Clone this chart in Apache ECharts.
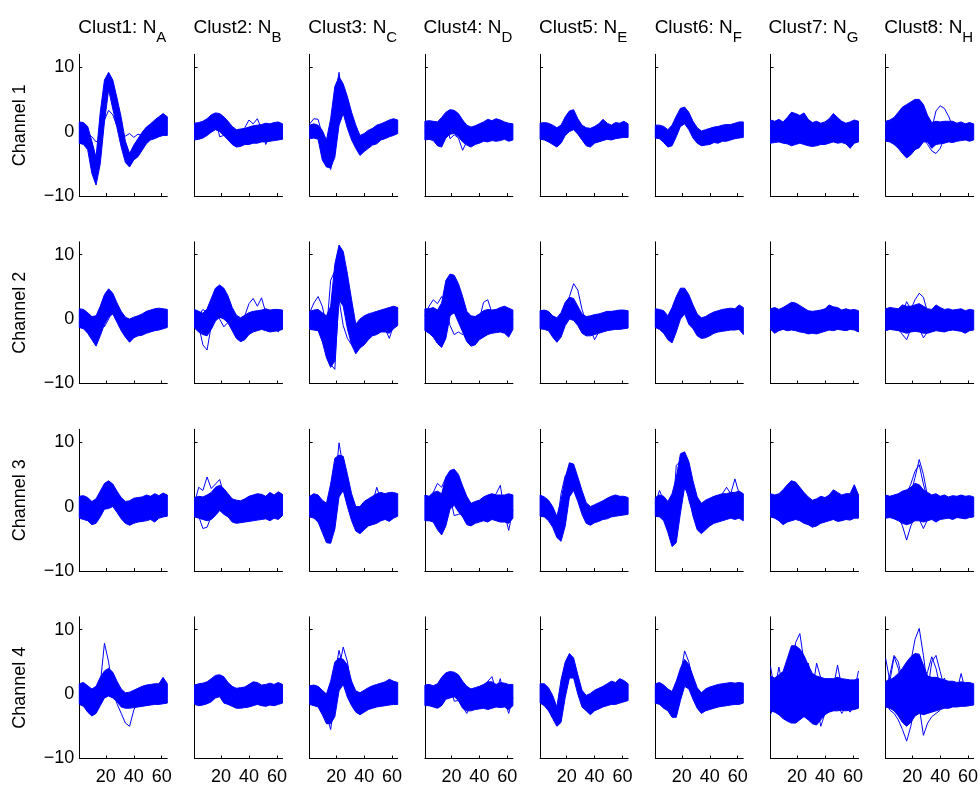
<!DOCTYPE html>
<html><head><meta charset="utf-8">
<script src="https://cdn.jsdelivr.net/npm/echarts@6/dist/echarts.min.js"></script>
<style>html,body{margin:0;padding:0;background:#fff}#c{width:980px;height:787px}</style>
</head><body><div id="c"></div>
<script>
// sample positions (every third sample of the 64-sample waveform)
const X = [1,4,7,10,13,16,19,22,25,28,31,34,37,40,43,46,49,52,55,58,61,64];
const CLUSTERS = ['Clust1','Clust2','Clust3','Clust4','Clust5','Clust6','Clust7','Clust8'];
const SUBS = ['A','B','C','D','E','F','G','H'];
const CHANNELS = ['Channel 1','Channel 2','Channel 3','Channel 4'];
const X_TICKS = [20,40,60];
const Y_TICKS = [-10,0,10];

// ---- Channel 1 : dense band upper/lower edge + stray traces ----
const ch1_k1_hi = [1.5,1.4,0.8,-1.5,-4.0,3.0,8.0,9.2,8.0,5.2,2.2,-1.5,-3.4,-2.1,-1.1,-0.1,0.7,1.2,1.8,2.3,2.8,2.3];
const ch1_k1_lo = [-1.8,-2.0,-2.8,-6.5,-8.3,-5.0,1.5,6.5,3.5,0.6,-2.4,-4.8,-5.5,-4.4,-3.9,-2.9,-1.9,-1.3,-1.1,-0.8,-0.6,-0.6];
const ch1_k1_out = [[0.5,0.3,-0.3,-0.8,-1.6,-1.0,1.8,3.3,2.6,0.8,-0.6,-0.7,-0.3,-0.9,-0.4,-0.6,0.0,0.3,0.5,0.8,1.2,1.0]];
const ch1_k2_hi = [1.3,1.4,1.6,2.0,2.6,2.9,2.8,2.3,1.6,0.8,0.3,0.4,0.5,0.7,0.9,1.0,1.1,1.3,1.2,1.4,1.5,1.2];
const ch1_k2_lo = [-1.3,-1.2,-1.0,-0.6,-0.1,0.3,0.0,-0.6,-1.3,-2.0,-2.4,-2.3,-2.0,-2.0,-1.8,-1.8,-1.6,-1.6,-1.5,-1.4,-1.3,-1.2];
const ch1_k2_out = [[0.2,0.0,0.5,1.0,1.6,2.2,-0.8,-0.6,-0.8,-1.2,-1.5,-1.2,0.6,1.8,1.2,2.0,0.4,-2.0,-0.5,0.2,-0.8,0.0]];
const ch1_k3_hi = [1.0,1.2,1.0,0.2,-1.3,2.0,7.0,8.5,7.4,5.4,3.0,1.0,-0.6,-0.3,0.2,0.5,1.0,1.2,1.5,1.8,2.0,1.8];
const ch1_k3_lo = [-1.1,-1.0,-1.2,-4.4,-5.5,-5.6,-4.0,1.0,2.8,0.5,-1.3,-2.6,-3.7,-3.1,-2.6,-2.1,-1.9,-1.3,-1.1,-0.8,-0.6,-0.3];
const ch1_k3_out = [[0.2,0.0,-0.5,-2.0,-4.5,-5.9,-3.0,5.0,6.5,4.0,1.0,-1.5,-2.5,-2.0,-1.5,-1.0,-0.8,-0.5,-0.3,0.0,0.3,0.2],
                    [1.2,2.0,1.9,-0.5,-3.0,-2.0,5.0,9.2,4.0,2.0,0.0,-1.0,-2.0,-1.5,-1.0,-0.5,0.0,0.2,0.5,0.8,1.0,0.8]];
const ch1_k4_hi = [1.6,1.7,1.6,1.5,2.2,3.0,3.4,3.3,2.8,1.8,1.0,0.7,0.9,1.2,1.5,1.9,1.7,2.0,1.8,1.5,1.3,1.2];
const ch1_k4_lo = [-1.3,-1.2,-1.4,-2.2,-2.4,-1.0,-0.4,-0.3,-0.8,-1.6,-2.1,-2.4,-2.0,-1.8,-1.5,-1.6,-1.4,-1.5,-1.4,-1.2,-1.5,-1.3];
const ch1_k4_out = [[0.0,0.2,0.0,-0.5,0.5,1.5,-1.1,-0.5,-1.0,-2.9,-1.5,-1.0,-0.5,0.0,0.5,0.2,0.0,0.3,0.0,0.2,0.0,0.0]];
const ch1_k5_hi = [1.3,1.4,1.3,1.0,0.6,1.0,2.3,3.2,3.4,2.0,1.0,0.6,0.5,0.8,1.2,1.9,1.3,1.0,1.4,1.3,1.6,1.2];
const ch1_k5_lo = [-1.2,-1.3,-1.6,-2.0,-2.4,-1.8,-0.6,0.0,0.3,-0.4,-1.3,-2.2,-2.4,-1.8,-1.6,-1.4,-1.2,-1.3,-1.1,-1.0,-0.9,-0.9];
const ch1_k5_out = [];
const ch1_k6_hi = [1.0,1.0,0.8,0.3,1.0,2.4,3.6,3.8,3.0,1.6,0.6,0.1,0.3,0.5,0.7,0.8,1.0,1.1,1.1,1.3,1.5,1.5];
const ch1_k6_lo = [-1.0,-1.1,-1.7,-2.4,-2.2,-0.8,0.8,1.2,0.3,-1.0,-1.8,-2.2,-2.1,-2.0,-1.7,-1.8,-1.5,-1.5,-1.3,-1.1,-1.0,-0.9];
const ch1_k6_out = [];
const ch1_k7_hi = [1.8,1.6,1.9,1.5,2.2,3.0,2.8,2.5,2.9,1.9,1.4,1.6,1.3,1.5,2.0,2.8,2.2,1.6,1.3,1.5,1.8,1.6];
const ch1_k7_lo = [-1.8,-1.7,-1.6,-1.8,-1.9,-2.2,-2.0,-1.8,-2.0,-2.2,-2.3,-2.2,-2.0,-2.0,-1.8,-1.6,-1.8,-1.7,-1.9,-2.6,-1.8,-1.6];
const ch1_k7_out = [];
const ch1_k8_hi = [1.6,1.8,2.2,3.0,3.8,4.2,4.6,5.0,5.0,4.2,2.5,1.4,1.6,1.5,1.6,1.6,1.6,1.3,1.5,1.2,1.4,1.2];
const ch1_k8_lo = [-1.5,-1.6,-2.0,-2.6,-3.4,-4.1,-3.6,-2.8,-2.5,-1.6,-1.6,-2.6,-2.0,-1.9,-1.8,-1.6,-1.7,-1.5,-1.4,-1.3,-1.5,-1.3];
const ch1_k8_out = [[0.3,0.5,0.8,1.2,2.0,1.5,0.5,1.0,2.0,1.5,0.5,0.5,3.2,4.0,3.6,2.4,0.8,0.3,0.2,0.0,0.3,0.2],
                    [-0.5,-0.8,-1.2,-2.0,-2.5,-3.0,-1.5,-1.0,-0.5,-1.0,-2.0,-3.0,-3.4,-2.6,-1.0,-0.5,-0.3,0.0,-0.2,0.0,-0.3,-0.2]];

// ---- Channel 2 ----
const ch2_k1_hi = [1.6,1.5,1.0,0.4,0.5,2.0,3.8,4.7,4.0,2.5,1.2,0.3,0.0,0.3,0.5,0.8,1.2,1.4,1.6,1.7,1.6,1.5];
const ch2_k1_lo = [-1.3,-1.5,-2.2,-3.2,-4.2,-2.6,-0.8,0.3,0.8,-0.5,-1.8,-2.8,-3.6,-2.9,-2.6,-2.5,-2.2,-2.0,-1.8,-1.7,-1.5,-1.3];
const ch2_k1_out = [[0.2,0.0,-0.5,-1.0,-0.5,1.5,-1.2,0.0,1.5,0.5,-0.5,-1.0,-1.2,-1.0,-0.8,-0.5,-0.3,0.0,0.2,0.3,0.2,0.1]];
const ch2_k2_hi = [1.5,1.2,0.9,1.6,3.2,4.8,5.3,4.8,3.6,1.8,0.6,0.2,0.6,1.0,1.2,1.3,1.4,1.6,1.4,1.5,1.5,1.4];
const ch2_k2_lo = [-1.4,-2.0,-2.4,-2.6,-1.6,-0.3,0.3,0.0,-0.6,-1.8,-3.0,-3.5,-3.2,-2.4,-2.0,-1.8,-1.6,-1.8,-2.0,-1.9,-1.8,-1.6];
const ch2_k2_out = [[0.5,-1.0,-4.0,-4.8,-1.0,2.0,3.5,4.0,1.5,-0.5,-2.0,-2.5,-2.0,-1.0,-0.5,0.0,0.2,0.0,-0.5,-1.5,-2.0,-1.0],
                    [0.3,0.5,1.5,1.0,2.5,4.0,0.0,-1.2,-0.5,-1.0,-2.0,-1.5,0.5,2.4,3.2,2.0,3.3,1.0,-0.5,-1.8,-1.5,-0.5]];
const ch2_k3_hi = [1.2,1.4,1.5,1.0,0.5,2.0,8.5,11.5,10.5,7.0,3.0,-0.8,0.0,0.5,0.8,1.0,1.2,1.4,1.6,1.8,2.0,1.8];
const ch2_k3_lo = [-1.6,-1.7,-1.8,-3.5,-6.0,-7.5,-6.5,3.0,2.0,-1.5,-4.0,-5.4,-4.5,-4.0,-3.2,-2.6,-2.4,-2.0,-2.0,-2.2,-1.5,-1.0];
const ch2_k3_out = [[1.0,2.5,3.5,2.0,-1.0,-4.0,-2.0,6.0,8.0,3.0,-1.0,-3.0,-2.0,-1.0,-0.5,0.0,0.3,0.5,0.3,0.5,0.8,0.5],
                    [0.0,-0.5,-1.0,-2.5,-5.0,-7.0,-7.8,4.0,8.5,5.0,0.0,-3.0,-3.5,-2.5,-1.5,-1.0,-0.5,-0.8,-1.5,-3.0,-1.0,-0.5],
                    [0.5,0.3,0.0,-1.0,-2.0,6.0,7.5,3.0,-1.0,-3.0,-4.0,-3.5,-2.5,-2.0,-1.5,-1.0,-0.5,0.0,0.2,0.4,0.5,0.3]];
const ch2_k4_hi = [1.6,1.6,1.8,1.4,2.5,6.0,7.0,6.8,5.5,3.5,1.2,0.5,0.4,0.8,1.3,1.5,1.4,1.5,1.8,2.0,1.7,1.4];
const ch2_k4_lo = [-1.8,-2.2,-2.8,-3.8,-4.4,-3.0,0.5,1.0,-0.5,-2.0,-3.5,-4.2,-4.0,-3.2,-2.8,-2.4,-2.2,-2.1,-2.0,-2.2,-2.8,-1.6];
const ch2_k4_out = [[0.5,2.0,3.0,2.4,3.5,2.0,-1.0,-2.4,-2.0,-2.4,-1.5,-1.0,-0.5,0.0,2.6,3.0,1.0,0.5,0.0,-0.5,-1.0,0.0]];
const ch2_k5_hi = [1.3,1.4,1.2,0.5,0.2,1.0,2.6,3.4,3.2,2.0,0.8,0.4,0.5,0.7,0.8,1.0,1.2,1.2,1.3,1.4,1.4,1.3];
const ch2_k5_lo = [-1.5,-1.6,-1.8,-2.8,-3.6,-2.8,-1.0,0.0,-0.2,-1.0,-2.2,-2.6,-2.6,-2.4,-2.2,-2.0,-1.8,-1.7,-1.6,-1.6,-1.5,-1.4];
const ch2_k5_out = [[0.2,0.0,-0.2,-1.0,-2.0,-0.8,1.5,3.5,5.5,4.5,1.5,-0.5,-1.5,-3.2,-2.0,-1.0,-0.5,0.0,0.0,0.2,0.0,0.0]];
const ch2_k6_hi = [1.6,1.5,1.3,0.5,1.8,3.5,4.8,4.8,3.8,2.2,0.8,0.2,0.4,0.8,1.1,1.3,1.5,1.6,1.7,1.6,2.2,1.8];
const ch2_k6_lo = [-1.3,-1.6,-2.2,-3.2,-3.7,-2.0,0.0,0.8,-0.8,-1.5,-2.6,-3.0,-2.9,-2.6,-2.2,-2.0,-1.9,-1.8,-1.7,-1.7,-1.6,-2.4];
const ch2_k6_out = [];
const ch2_k7_hi = [1.6,1.8,1.5,1.8,2.2,2.6,2.5,2.1,1.7,1.3,1.2,1.3,1.4,1.6,2.2,1.9,1.8,1.4,1.6,1.4,1.5,1.3];
const ch2_k7_lo = [-1.6,-2.2,-1.8,-1.6,-1.8,-1.7,-1.8,-2.0,-2.1,-2.3,-2.2,-2.3,-2.1,-1.9,-1.7,-1.8,-1.6,-1.7,-1.8,-1.6,-1.7,-2.0];
const ch2_k7_out = [];
const ch2_k8_hi = [1.6,1.8,1.7,1.6,2.2,2.0,2.0,2.2,2.4,2.0,1.6,1.5,2.2,1.8,1.5,1.6,1.4,1.5,1.6,1.3,1.5,1.4];
const ch2_k8_lo = [-1.8,-1.6,-1.7,-1.8,-2.0,-2.2,-2.0,-1.9,-2.0,-2.2,-2.2,-2.0,-1.8,-1.9,-2.0,-1.8,-1.7,-1.8,-1.9,-2.2,-1.8,-1.7];
const ch2_k8_out = [[0.3,0.5,0.2,0.5,1.0,2.7,1.5,3.0,4.0,3.4,1.0,0.5,0.3,0.0,0.2,0.0,0.3,0.0,0.2,0.0,0.2,0.1],
                    [-0.5,-0.8,-1.0,-1.5,-2.4,-3.2,-1.5,-1.0,-1.5,-2.9,-2.0,-1.0,-0.5,0.0,-0.3,-0.2,0.0,-0.2,0.0,-0.3,0.0,-0.2]];

// ---- Channel 3 ----
const ch3_k1_hi = [1.6,1.7,1.4,0.8,1.2,2.4,3.6,4.0,3.5,2.4,1.4,0.8,0.9,1.3,1.4,1.5,1.8,1.6,2.0,1.7,2.1,1.8];
const ch3_k1_lo = [-1.8,-2.0,-2.2,-2.8,-2.6,-1.6,-0.4,-0.3,0.0,-0.9,-1.9,-2.6,-2.9,-2.6,-2.4,-2.3,-2.2,-2.0,-2.4,-1.8,-1.6,-1.5];
const ch3_k1_out = [];
const ch3_k2_hi = [1.4,1.6,1.5,1.8,2.2,3.0,3.3,2.8,2.0,1.2,1.0,0.9,1.2,1.6,1.8,2.0,1.9,1.6,2.2,1.8,2.3,1.9];
const ch3_k2_lo = [-1.6,-1.8,-2.0,-2.2,-2.0,-1.4,-0.6,-1.2,-1.6,-2.4,-2.6,-2.5,-2.4,-2.3,-2.2,-2.1,-2.0,-1.9,-2.2,-1.8,-2.0,-1.4];
const ch3_k2_out = [[0.5,3.0,2.5,4.6,2.8,3.5,4.2,2.0,0.5,-0.5,-1.0,-0.8,-0.5,0.0,0.3,0.5,0.3,0.0,0.2,0.0,0.3,0.2],
                    [-0.5,-1.5,-3.4,-3.2,-1.5,0.5,1.5,-1.0,-1.5,-2.0,-1.5,-1.0,-0.5,0.0,-0.3,0.0,-0.5,0.0,-0.3,0.0,-0.5,-0.3]];
const ch3_k3_hi = [1.6,2.0,1.8,1.0,0.5,3.5,7.5,8.0,7.8,5.0,2.0,0.0,0.0,0.8,1.2,1.6,2.0,2.2,2.0,2.2,2.2,2.0];
const ch3_k3_lo = [-1.6,-1.8,-2.4,-4.0,-5.6,-5.7,-3.5,1.5,2.5,0.0,-2.2,-3.8,-4.2,-3.6,-3.0,-2.8,-2.6,-2.2,-2.0,-2.3,-1.8,-1.5];
const ch3_k3_out = [[0.5,0.3,0.0,-1.5,-3.5,-2.0,3.0,9.9,6.0,2.0,-1.0,-2.5,-2.0,-1.0,-0.5,0.5,3.0,1.0,0.5,0.3,0.2,0.0]];
const ch3_k4_hi = [1.8,1.6,2.2,2.4,2.0,4.6,5.6,5.8,5.0,3.2,1.6,0.5,0.8,1.0,1.5,1.8,2.0,1.8,1.8,1.8,2.0,1.8];
const ch3_k4_lo = [-2.2,-2.2,-2.4,-3.6,-4.4,-3.0,-0.4,0.2,-0.8,-1.6,-2.8,-3.0,-2.6,-2.4,-2.2,-2.4,-2.0,-2.2,-2.4,-2.4,-2.6,-1.8];
const ch3_k4_out = [[0.5,1.0,2.2,3.6,3.0,4.5,1.5,-1.4,-1.2,-1.0,-0.5,0.0,0.5,0.5,1.0,1.0,1.0,2.0,3.3,-1.0,-3.7,-0.5]];
const ch3_k5_hi = [1.8,1.5,1.0,0.0,-1.5,1.0,4.5,6.8,6.6,4.6,2.5,0.6,0.0,0.3,0.6,0.9,1.3,1.6,1.8,1.6,1.6,1.4];
const ch3_k5_lo = [-1.5,-1.6,-2.2,-3.2,-4.8,-5.4,-3.0,1.5,2.5,0.8,-1.2,-2.6,-2.9,-2.5,-2.3,-2.0,-1.9,-1.6,-1.5,-1.4,-1.3,-1.2];
const ch3_k5_out = [[0.5,0.3,-0.5,-2.0,-3.0,2.0,4.8,5.5,4.0,2.0,0.0,-1.5,-2.0,-1.5,-1.0,-0.5,0.0,0.3,0.5,0.3,0.2,0.0]];
const ch3_k6_hi = [1.4,1.8,1.6,0.8,2.0,4.5,8.2,8.5,7.0,4.0,1.5,0.5,1.0,1.3,1.6,1.8,2.0,2.0,2.2,2.2,2.4,2.0];
const ch3_k6_lo = [-1.5,-1.6,-2.2,-4.0,-6.2,-5.6,-1.0,3.0,1.5,-1.5,-3.6,-4.2,-3.6,-3.0,-2.6,-2.4,-2.2,-2.0,-1.8,-2.0,-1.8,-2.2];
const ch3_k6_out = [[0.5,2.5,1.0,-1.0,-3.0,6.4,7.0,4.0,1.0,-1.0,-1.5,-0.5,0.5,1.0,1.5,1.0,2.0,3.0,2.0,4.3,2.0,1.0]];
const ch3_k7_hi = [2.0,1.8,2.0,2.6,3.4,4.0,3.8,3.0,2.2,1.5,1.0,1.2,1.6,1.4,1.8,2.6,2.2,1.8,2.0,2.0,3.4,1.8];
const ch3_k7_lo = [-1.6,-1.8,-2.2,-2.8,-2.4,-2.2,-2.0,-2.2,-2.6,-2.8,-3.2,-3.0,-2.6,-2.4,-2.2,-2.0,-2.3,-2.2,-2.0,-2.1,-1.8,-1.8];
const ch3_k7_out = [];
const ch3_k8_hi = [1.8,1.6,1.8,2.0,2.4,2.6,3.0,3.6,3.4,2.6,2.2,1.8,2.0,1.6,1.8,1.5,1.7,1.6,1.8,1.6,1.7,1.5];
const ch3_k8_lo = [-1.8,-1.7,-1.9,-2.2,-2.6,-2.8,-2.6,-2.2,-2.2,-2.4,-2.2,-2.0,-2.4,-2.0,-1.9,-1.8,-2.0,-1.7,-1.8,-1.9,-1.7,-1.6];
const ch3_k8_out = [[0.5,0.3,0.2,0.5,0.8,1.0,2.0,4.5,7.3,5.0,1.5,0.5,0.3,0.0,0.2,0.0,0.3,0.0,0.2,0.0,0.1,0.0],
                    [0.3,0.2,0.5,1.0,1.5,2.0,3.5,5.5,6.5,3.5,1.0,0.2,0.0,0.3,0.0,0.2,0.0,0.3,0.0,0.2,0.0,0.1],
                    [-0.5,-0.8,-1.0,-1.5,-3.0,-5.2,-3.0,-1.5,-2.0,-3.4,-2.0,-1.0,-0.5,-0.3,0.0,-0.3,-0.2,0.0,-0.3,0.0,-0.2,0.0]];

// ---- Channel 4 ----
const ch4_k1_hi = [1.6,1.8,1.3,0.8,1.2,2.6,3.6,4.0,3.4,2.0,0.8,0.2,0.3,0.6,0.9,1.2,1.4,1.5,1.6,1.6,2.6,1.6];
const ch4_k1_lo = [-1.6,-1.9,-2.8,-3.4,-3.0,-1.8,-0.6,-0.3,-0.6,-1.2,-2.0,-2.2,-2.2,-2.1,-2.0,-1.9,-1.8,-1.7,-1.6,-1.6,-1.5,-1.4];
const ch4_k1_out = [[0.3,-0.2,-1.0,-2.0,-1.0,1.5,7.9,5.0,0.5,-1.5,-3.0,-4.5,-5.0,-2.5,-1.0,-0.5,0.0,0.2,0.0,0.3,0.5,0.5]];
const ch4_k2_hi = [1.4,1.6,1.7,1.9,2.4,2.9,3.0,2.7,1.8,1.2,0.9,1.0,1.1,1.5,1.9,1.8,1.4,1.5,1.7,1.5,1.8,1.5];
const ch4_k2_lo = [-1.6,-1.8,-1.7,-1.5,-1.2,-0.6,-0.4,-1.4,-1.6,-1.9,-2.2,-2.2,-2.1,-2.0,-1.8,-1.6,-1.8,-1.9,-1.7,-1.8,-1.6,-1.4];
const ch4_k2_out = [];
const ch4_k3_hi = [1.3,1.4,1.2,0.6,0.0,2.0,5.0,5.6,5.4,4.5,2.0,0.5,0.2,0.6,1.0,1.3,1.5,1.7,1.9,2.3,2.0,1.8];
const ch4_k3_lo = [-1.6,-1.8,-2.0,-3.2,-4.6,-4.6,-3.5,0.5,1.5,-0.5,-1.8,-2.8,-3.2,-2.8,-2.4,-2.2,-2.0,-1.9,-1.8,-1.7,-1.6,-1.6];
const ch4_k3_out = [[0.3,0.2,0.0,-1.0,-3.0,-5.5,-1.0,4.0,7.3,5.0,1.0,-1.5,-2.0,-1.5,-1.0,-0.5,0.0,0.3,0.5,0.3,0.2,0.0],
                    [0.5,0.3,0.0,-1.5,-3.5,-2.0,3.0,6.8,4.0,1.0,-1.0,-2.0,-2.5,-2.0,-1.0,-0.5,0.0,0.2,0.3,0.2,0.0,0.1]];
const ch4_k4_hi = [1.4,1.5,1.3,1.6,2.6,3.3,3.5,3.4,3.0,2.0,1.2,0.8,1.0,1.2,1.5,1.9,1.9,1.5,1.8,1.7,1.5,1.5];
const ch4_k4_lo = [-1.8,-1.8,-2.0,-2.2,-1.8,-0.8,-0.6,-0.4,-1.0,-2.2,-2.6,-2.6,-2.4,-2.3,-2.2,-2.4,-2.2,-2.0,-2.1,-2.0,-2.4,-1.8];
const ch4_k4_out = [[0.3,0.2,0.0,0.5,1.5,2.0,1.5,-1.1,-1.0,-2.0,-3.0,-1.5,-0.5,0.0,0.5,2.0,2.7,0.5,2.4,-1.0,-3.0,-0.5]];
const ch4_k5_hi = [1.6,1.6,1.0,-0.2,-2.0,2.2,5.0,6.3,5.6,3.0,0.6,-0.2,0.1,0.6,0.9,1.2,1.6,2.0,1.8,2.4,2.1,1.6];
const ch4_k5_lo = [-1.4,-1.8,-2.6,-3.8,-5.0,-4.4,-0.5,2.5,2.5,0.0,-2.0,-2.6,-3.2,-2.6,-2.3,-2.0,-1.8,-1.6,-1.6,-1.4,-1.2,-1.0];
const ch4_k5_out = [];
const ch4_k6_hi = [1.6,1.8,1.4,0.8,0.4,2.0,4.0,5.4,4.6,2.8,1.0,0.2,0.8,1.1,1.3,1.5,1.6,1.7,1.8,1.7,1.8,1.7];
const ch4_k6_lo = [-1.4,-1.6,-2.2,-2.6,-3.6,-3.6,-1.0,1.2,0.8,-0.8,-2.2,-3.0,-2.6,-2.4,-2.2,-2.0,-1.9,-1.8,-1.7,-1.6,-1.6,-1.4];
const ch4_k6_out = [[0.3,0.2,0.0,-0.5,-1.5,0.5,3.0,6.7,5.0,2.0,-0.5,-1.5,-1.0,-0.5,0.0,0.3,0.0,0.2,0.0,0.3,0.0,0.0]];
const ch4_k7_hi = [2.8,2.5,3.0,3.5,5.5,7.5,7.5,7.0,6.0,4.5,3.2,2.8,2.6,2.4,2.4,2.4,2.6,2.4,2.3,2.2,2.2,2.4];
const ch4_k7_lo = [-2.6,-2.8,-3.2,-3.8,-4.2,-4.5,-4.5,-4.0,-3.5,-4.0,-4.6,-4.8,-4.0,-3.2,-2.8,-2.6,-2.6,-2.5,-2.6,-2.5,-2.4,-2.2];
const ch4_k7_out = [[4.3,0.5,4.2,1.0,0.0,3.0,8.0,9.4,5.0,2.0,0.5,4.8,2.5,1.0,0.5,1.0,4.5,1.0,0.5,1.0,0.5,3.6],
                    [-3.2,-1.5,-3.0,-1.0,-2.5,-4.0,-2.0,-3.0,-0.5,4.8,2.0,-1.5,-5.0,-3.0,-1.0,-2.5,-1.5,-3.0,-2.0,-2.8,-1.5,-1.0]];
const ch4_k8_hi = [2.0,2.2,2.6,3.2,4.0,5.0,5.8,6.3,6.2,4.5,2.8,2.6,2.6,2.4,2.2,2.0,2.0,1.8,1.9,1.8,1.8,1.6];
const ch4_k8_lo = [-2.0,-2.2,-2.6,-3.4,-4.4,-5.0,-4.4,-3.4,-3.0,-3.2,-3.0,-2.8,-2.6,-2.4,-2.2,-2.2,-2.0,-2.0,-1.9,-1.9,-1.8,-1.7];
const ch4_k8_out = [[0.5,0.8,1.0,1.5,2.0,3.0,5.0,8.5,10.2,6.0,1.0,-0.5,0.2,0.5,0.3,0.5,0.3,0.2,0.3,0.2,0.3,0.3],
                    [5.5,2.0,5.8,4.0,1.0,-2.0,-1.0,0.5,1.0,0.0,0.5,5.0,6.0,3.5,1.0,0.5,1.5,0.5,3.2,0.5,0.2,0.3],
                    [-1.0,-2.5,-3.0,-4.0,-5.5,-7.3,-5.0,-1.5,-2.0,-6.4,-4.5,-3.5,-3.0,-2.5,-1.5,-2.2,-1.8,-1.0,-1.5,-0.8,-1.0,-0.8],
                    [1.0,3.0,6.0,5.0,2.0,0.0,1.5,3.5,2.0,1.5,3.5,5.8,4.0,1.0,2.5,0.5,1.0,0.5,0.8,0.2,0.5,0.2]];

// panel table assembled from the named arrays (row = channel, column = cluster)
const PANELS = [
  [[ch1_k1_hi,ch1_k1_lo,ch1_k1_out],[ch1_k2_hi,ch1_k2_lo,ch1_k2_out],[ch1_k3_hi,ch1_k3_lo,ch1_k3_out],[ch1_k4_hi,ch1_k4_lo,ch1_k4_out],
   [ch1_k5_hi,ch1_k5_lo,ch1_k5_out],[ch1_k6_hi,ch1_k6_lo,ch1_k6_out],[ch1_k7_hi,ch1_k7_lo,ch1_k7_out],[ch1_k8_hi,ch1_k8_lo,ch1_k8_out]],
  [[ch2_k1_hi,ch2_k1_lo,ch2_k1_out],[ch2_k2_hi,ch2_k2_lo,ch2_k2_out],[ch2_k3_hi,ch2_k3_lo,ch2_k3_out],[ch2_k4_hi,ch2_k4_lo,ch2_k4_out],
   [ch2_k5_hi,ch2_k5_lo,ch2_k5_out],[ch2_k6_hi,ch2_k6_lo,ch2_k6_out],[ch2_k7_hi,ch2_k7_lo,ch2_k7_out],[ch2_k8_hi,ch2_k8_lo,ch2_k8_out]],
  [[ch3_k1_hi,ch3_k1_lo,ch3_k1_out],[ch3_k2_hi,ch3_k2_lo,ch3_k2_out],[ch3_k3_hi,ch3_k3_lo,ch3_k3_out],[ch3_k4_hi,ch3_k4_lo,ch3_k4_out],
   [ch3_k5_hi,ch3_k5_lo,ch3_k5_out],[ch3_k6_hi,ch3_k6_lo,ch3_k6_out],[ch3_k7_hi,ch3_k7_lo,ch3_k7_out],[ch3_k8_hi,ch3_k8_lo,ch3_k8_out]],
  [[ch4_k1_hi,ch4_k1_lo,ch4_k1_out],[ch4_k2_hi,ch4_k2_lo,ch4_k2_out],[ch4_k3_hi,ch4_k3_lo,ch4_k3_out],[ch4_k4_hi,ch4_k4_lo,ch4_k4_out],
   [ch4_k5_hi,ch4_k5_lo,ch4_k5_out],[ch4_k6_hi,ch4_k6_lo,ch4_k6_out],[ch4_k7_hi,ch4_k7_lo,ch4_k7_out],[ch4_k8_hi,ch4_k8_lo,ch4_k8_out]]
];

const FONT = '"Liberation Sans", Arial, Helvetica, sans-serif';
const BLUE = '#0000ff';
const INK = '#000000';
const LEFT0 = 79.3, COL_STEP = 115.2, TOP0 = 54.3, ROW_STEP = 187.5, GW = 88, GH = 141.7;
const fmt = v => (v < 0 ? '\u2212' + (-v) : String(v));

// band renderer: polygon between upper and lower edge, positioned by the axes' own scales
function bandRenderer(hi, lo) {
  return function (params, api) {
    const pts = [];
    for (let j = 0; j < X.length; j++) pts.push(api.coord([X[j], hi[j]]));
    for (let j = X.length - 1; j >= 0; j--) pts.push(api.coord([X[j], lo[j]]));
    return {type: 'polygon', shape: {points: pts},
            style: {fill: BLUE, stroke: BLUE, lineWidth: 1, lineJoin: 'round'}};
  };
}

const grids = [], xAxes = [], yAxes = [], series = [], titles = [];
for (let r = 0; r < 4; r++) {
  for (let c = 0; c < 8; c++) {
    const i = r * 8 + c;
    grids.push({left: LEFT0 + COL_STEP * c, top: TOP0 + ROW_STEP * r, width: GW, height: GH, outerBoundsMode: 'none'});
    xAxes.push({
      gridIndex: i, type: 'value', min: 1, max: 64,
      axisLine: {show: true, onZero: false, lineStyle: {color: INK, width: 1}},
      axisTick: {show: true, inside: true, length: 3, customValues: X_TICKS, lineStyle: {color: INK}},
      axisLabel: {show: r === 3, customValues: X_TICKS, margin: 10, color: INK, fontSize: 18, fontFamily: FONT},
      splitLine: {show: false}
    });
    yAxes.push({
      gridIndex: i, type: 'value', min: -10, max: 12,
      axisLine: {show: true, onZero: false, lineStyle: {color: INK, width: 1}},
      axisTick: {show: true, inside: true, length: 3, customValues: Y_TICKS, lineStyle: {color: INK}},
      axisLabel: {show: c === 0, customValues: Y_TICKS, formatter: fmt, margin: 5, color: INK, fontSize: 18, fontFamily: FONT},
      splitLine: {show: false},
      name: c === 0 ? CHANNELS[r] : '', nameLocation: 'middle', nameGap: 50,
      nameTextStyle: {color: INK, fontSize: 18, fontFamily: FONT}
    });
    const [hi, lo, outs] = PANELS[r][c];
    series.push({
      type: 'custom', xAxisIndex: i, yAxisIndex: i, silent: true,
      renderItem: bandRenderer(hi, lo),
      data: [[X[0], lo[0]]]
    });
    outs.forEach(o => series.push({
      type: 'line', xAxisIndex: i, yAxisIndex: i, symbol: 'none', silent: true,
      lineStyle: {color: BLUE, width: 1}, itemStyle: {color: BLUE},
      data: X.map((x, j) => [x, o[j]])
    }));
  }
}
for (let c = 0; c < 8; c++) {
  titles.push({
    text: '{m|' + CLUSTERS[c] + ': N}{s|' + SUBS[c] + '}',
    left: LEFT0 + COL_STEP * c + GW / 2 - 6, top: 13, textAlign: 'center',
    textStyle: {fontWeight: 'normal', rich: {
      m: {fontSize: 19, fontFamily: FONT, fontWeight: 'normal', color: INK, verticalAlign: 'top'},
      s: {fontSize: 15, fontFamily: FONT, fontWeight: 'normal', color: INK, verticalAlign: 'top', padding: [12, 0, 0, 0]}
    }}
  });
}

const chart = echarts.init(document.getElementById('c'), null, {renderer: 'canvas'});
chart.setOption({
  animation: false, backgroundColor: '#fff',
  title: titles, grid: grids, xAxis: xAxes, yAxis: yAxes, series: series
});
</script></body></html>
